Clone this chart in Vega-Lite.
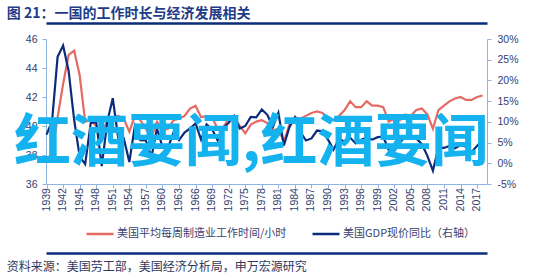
{
  "$schema": "https://vega.github.io/schema/vega-lite/v6.json",
  "width": 441,
  "height": 145,
  "autosize": "none",
  "padding": {"left": 46, "top": 39, "right": 52, "bottom": 93},
  "background": "white",
  "config": {
    "view": {"stroke": null},
    "axis": {
      "labelFont": "Liberation Sans",
      "labelFontSize": 10.5,
      "labelColor": "#34406E",
      "domainColor": "#8EB4E3",
      "tickColor": "#8EB4E3",
      "tickSize": 4,
      "grid": false,
      "title": null
    },
    "legend": {
      "labelFont": "Noto Sans CJK SC",
      "labelFontSize": 11,
      "labelColor": "#3A4270",
      "labelLimit": 400
    }
  },
  "datasets": {
    "hours": [
      {"year": 1939, "hours": 37.7}, {"year": 1940, "hours": 38.1}, {"year": 1941, "hours": 40.6},
      {"year": 1942, "hours": 42.9}, {"year": 1943, "hours": 44.9}, {"year": 1944, "hours": 45.2},
      {"year": 1945, "hours": 43.5}, {"year": 1946, "hours": 40.3}, {"year": 1947, "hours": 40.4},
      {"year": 1948, "hours": 40.0}, {"year": 1949, "hours": 39.1}, {"year": 1950, "hours": 40.5},
      {"year": 1951, "hours": 40.6}, {"year": 1952, "hours": 40.7}, {"year": 1953, "hours": 40.5},
      {"year": 1954, "hours": 39.6}, {"year": 1955, "hours": 40.7}, {"year": 1956, "hours": 40.4},
      {"year": 1957, "hours": 39.8}, {"year": 1958, "hours": 39.2}, {"year": 1959, "hours": 40.3},
      {"year": 1960, "hours": 39.7}, {"year": 1961, "hours": 39.8}, {"year": 1962, "hours": 40.4},
      {"year": 1963, "hours": 40.5}, {"year": 1964, "hours": 40.7}, {"year": 1965, "hours": 41.2},
      {"year": 1966, "hours": 41.4}, {"year": 1967, "hours": 40.6}, {"year": 1968, "hours": 40.7},
      {"year": 1969, "hours": 40.6}, {"year": 1970, "hours": 39.8}, {"year": 1971, "hours": 39.9},
      {"year": 1972, "hours": 40.5}, {"year": 1973, "hours": 40.7}, {"year": 1974, "hours": 40.0},
      {"year": 1975, "hours": 39.5}, {"year": 1976, "hours": 40.1}, {"year": 1977, "hours": 40.3},
      {"year": 1978, "hours": 40.4}, {"year": 1979, "hours": 40.2}, {"year": 1980, "hours": 39.7},
      {"year": 1981, "hours": 39.8}, {"year": 1982, "hours": 38.9}, {"year": 1983, "hours": 40.1},
      {"year": 1984, "hours": 40.6}, {"year": 1985, "hours": 40.5}, {"year": 1986, "hours": 40.7},
      {"year": 1987, "hours": 40.9}, {"year": 1988, "hours": 41.0}, {"year": 1989, "hours": 40.9},
      {"year": 1990, "hours": 40.5}, {"year": 1991, "hours": 40.4}, {"year": 1992, "hours": 40.7},
      {"year": 1993, "hours": 41.1}, {"year": 1994, "hours": 41.7}, {"year": 1995, "hours": 41.3},
      {"year": 1996, "hours": 41.3}, {"year": 1997, "hours": 41.7}, {"year": 1998, "hours": 41.4},
      {"year": 1999, "hours": 41.4}, {"year": 2000, "hours": 41.3}, {"year": 2001, "hours": 40.3},
      {"year": 2002, "hours": 40.5}, {"year": 2003, "hours": 40.4}, {"year": 2004, "hours": 40.8},
      {"year": 2005, "hours": 40.7}, {"year": 2006, "hours": 41.1}, {"year": 2007, "hours": 41.2},
      {"year": 2008, "hours": 40.8}, {"year": 2009, "hours": 39.8}, {"year": 2010, "hours": 41.1},
      {"year": 2011, "hours": 41.4}, {"year": 2012, "hours": 41.7}, {"year": 2013, "hours": 41.9},
      {"year": 2014, "hours": 42.0}, {"year": 2015, "hours": 41.8}, {"year": 2016, "hours": 41.8},
      {"year": 2017, "hours": 42.0}, {"year": 2018, "hours": 42.1}
    ],
    "gdp": [
      {"year": 1939, "gdp": 6.9}, {"year": 1940, "gdp": 10.2}, {"year": 1941, "gdp": 25.7},
      {"year": 1942, "gdp": 28.4}, {"year": 1943, "gdp": 22.3}, {"year": 1944, "gdp": 10.5},
      {"year": 1945, "gdp": 1.6}, {"year": 1946, "gdp": -0.2}, {"year": 1947, "gdp": 9.7},
      {"year": 1948, "gdp": 10.0}, {"year": 1949, "gdp": -0.7}, {"year": 1950, "gdp": 10.0},
      {"year": 1951, "gdp": 15.7}, {"year": 1952, "gdp": 5.9}, {"year": 1953, "gdp": 6.0},
      {"year": 1954, "gdp": 0.3}, {"year": 1955, "gdp": 9.0}, {"year": 1956, "gdp": 5.6},
      {"year": 1957, "gdp": 5.5}, {"year": 1958, "gdp": 1.5}, {"year": 1959, "gdp": 8.4},
      {"year": 1960, "gdp": 4.0}, {"year": 1961, "gdp": 3.7}, {"year": 1962, "gdp": 7.4},
      {"year": 1963, "gdp": 5.6}, {"year": 1964, "gdp": 7.4}, {"year": 1965, "gdp": 8.4},
      {"year": 1966, "gdp": 9.6}, {"year": 1967, "gdp": 5.7}, {"year": 1968, "gdp": 9.4},
      {"year": 1969, "gdp": 8.2}, {"year": 1970, "gdp": 5.5}, {"year": 1971, "gdp": 8.5},
      {"year": 1972, "gdp": 9.8}, {"year": 1973, "gdp": 11.4}, {"year": 1974, "gdp": 8.4},
      {"year": 1975, "gdp": 9.0}, {"year": 1976, "gdp": 11.2}, {"year": 1977, "gdp": 11.1},
      {"year": 1978, "gdp": 13.0}, {"year": 1979, "gdp": 11.7}, {"year": 1980, "gdp": 8.8},
      {"year": 1981, "gdp": 12.2}, {"year": 1982, "gdp": 4.3}, {"year": 1983, "gdp": 8.7},
      {"year": 1984, "gdp": 11.1}, {"year": 1985, "gdp": 7.5}, {"year": 1986, "gdp": 5.5},
      {"year": 1987, "gdp": 6.0}, {"year": 1988, "gdp": 7.9}, {"year": 1989, "gdp": 7.7},
      {"year": 1990, "gdp": 5.7}, {"year": 1991, "gdp": 3.3}, {"year": 1992, "gdp": 5.9},
      {"year": 1993, "gdp": 5.2}, {"year": 1994, "gdp": 6.2}, {"year": 1995, "gdp": 4.8},
      {"year": 1996, "gdp": 5.7}, {"year": 1997, "gdp": 6.2}, {"year": 1998, "gdp": 5.7},
      {"year": 1999, "gdp": 6.3}, {"year": 2000, "gdp": 6.4}, {"year": 2001, "gdp": 3.2},
      {"year": 2002, "gdp": 3.4}, {"year": 2003, "gdp": 4.8}, {"year": 2004, "gdp": 6.6},
      {"year": 2005, "gdp": 6.7}, {"year": 2006, "gdp": 6.0}, {"year": 2007, "gdp": 4.6},
      {"year": 2008, "gdp": 1.8}, {"year": 2009, "gdp": -1.8}, {"year": 2010, "gdp": 3.8},
      {"year": 2011, "gdp": 3.7}, {"year": 2012, "gdp": 4.2}, {"year": 2013, "gdp": 3.6},
      {"year": 2014, "gdp": 4.4}, {"year": 2015, "gdp": 4.0}, {"year": 2016, "gdp": 2.7},
      {"year": 2017, "gdp": 4.2}, {"year": 2018, "gdp": 5.6}
    ],
    "years": [
      {"year": 1939}, {"year": 1942}, {"year": 1945}, {"year": 1948}, {"year": 1951},
      {"year": 1954}, {"year": 1957}, {"year": 1960}, {"year": 1963}, {"year": 1966},
      {"year": 1969}, {"year": 1972}, {"year": 1975}, {"year": 1978}, {"year": 1981},
      {"year": 1984}, {"year": 1987}, {"year": 1990}, {"year": 1993}, {"year": 1996},
      {"year": 1999}, {"year": 2002}, {"year": 2005}, {"year": 2008}, {"year": 2011},
      {"year": 2014}, {"year": 2017}
    ],
    "titles": [
      {"x": 1931.8, "y": 47.72, "label": "图 21：一国的工作时长与经济发展相关"}
    ],
    "notes": [
      {"x": 1931.8, "y": 30.28, "label": "资料来源：美国劳工部，美国经济分析局，申万宏源研究"}
    ],
    "mark": [
      {"x": 1976.1, "y": 38.76, "label": "红酒要闻,红酒要闻"}
    ]
  },
  "layer": [
    {
      "data": {"name": "hours"},
      "mark": {"type": "line", "strokeWidth": 2.2},
      "encoding": {
        "x": {
          "field": "year", "type": "quantitative",
          "scale": {"domain": [1938.9, 2018.8], "nice": false, "zero": false},
          "axis": {
            "values": [1939,1942,1945,1948,1951,1954,1957,1960,1963,1966,1969,1972,1975,1978,1981,1984,1987,1990,1993,1996,1999,2002,2005,2008,2011,2014,2017],
            "labels": false
          }
        },
        "y": {
          "field": "hours", "type": "quantitative",
          "scale": {"domain": [36, 46], "nice": false, "zero": false},
          "axis": {"orient": "left", "values": [36,38,40,42,44,46], "labelPadding": 5}
        },
        "color": {
          "datum": "美国平均每周制造业工作时间/小时",
          "type": "nominal",
          "scale": {
            "domain": ["美国平均每周制造业工作时间/小时", "美国GDP现价同比（右轴）"],
            "range": ["#E46A64", "#0A2C7A"]
          },
          "legend": {
            "orient": "none", "direction": "horizontal",
            "legendX": 39, "legendY": 180,
            "title": null,
            "symbolType": "stroke", "symbolSize": 729, "symbolStrokeWidth": 2.5,
            "labelOffset": 2, "columnPadding": 20, "labelLimit": 400
          }
        }
      }
    },
    {
      "data": {"name": "gdp"},
      "mark": {"type": "line", "strokeWidth": 2.2},
      "encoding": {
        "x": {"field": "year", "type": "quantitative", "axis": null},
        "y": {
          "field": "gdp", "type": "quantitative",
          "scale": {"domain": [-5, 30], "nice": false, "zero": false},
          "axis": {"orient": "right", "values": [-5,0,5,10,15,20,25,30], "labelExpr": "datum.value + '%'", "labelPadding": 6}
        },
        "color": {"datum": "美国GDP现价同比（右轴）", "type": "nominal"}
      }
    },
    {
      "data": {"name": "years"},
      "mark": {"type": "text", "angle": 270, "align": "right", "baseline": "middle", "font": "Liberation Sans", "fontSize": 10.5, "color": "#34406E"},
      "encoding": {
        "x": {"field": "year", "type": "quantitative", "axis": null},
        "y": {"datum": 35.72, "type": "quantitative", "scale": {"domain": [36, 46], "nice": false, "zero": false}, "axis": null},
        "text": {"field": "year", "type": "quantitative", "format": "d"}
      }
    },
    {
      "data": {"name": "titles"},
      "mark": {"type": "text", "align": "left", "baseline": "middle", "font": "Noto Sans CJK SC", "fontSize": 14, "fontWeight": "bold", "color": "#1F3C88"},
      "encoding": {
        "x": {
          "field": "x", "type": "quantitative",
          "axis": {"orient": "top", "offset": 16, "domainColor": "#0A2C7A", "domainWidth": 2.5, "ticks": false, "labels": false, "title": null, "grid": false}
        },
        "y": {"field": "y", "type": "quantitative", "scale": {"domain": [36, 46], "nice": false, "zero": false}, "axis": null},
        "text": {"field": "label"}
      }
    },
    {
      "data": {"name": "notes"},
      "mark": {"type": "text", "align": "left", "baseline": "middle", "font": "Noto Sans CJK SC", "fontSize": 12, "color": "#30395E"},
      "encoding": {
        "x": {
          "field": "x", "type": "quantitative",
          "axis": {"orient": "bottom", "offset": 69, "domainColor": "#0A2C7A", "domainWidth": 2.5, "ticks": false, "labels": false, "title": null, "grid": false}
        },
        "y": {"field": "y", "type": "quantitative", "scale": {"domain": [36, 46], "nice": false, "zero": false}, "axis": null},
        "text": {"field": "label"}
      }
    },
    {
      "data": {"name": "mark"},
      "mark": {"type": "text", "align": "center", "baseline": "middle", "font": "Noto Sans CJK SC", "fontSize": 57, "fontWeight": "bold", "color": "#14B2EE"},
      "encoding": {
        "x": {"field": "x", "type": "quantitative", "axis": null},
        "y": {"field": "y", "type": "quantitative", "scale": {"domain": [36, 46], "nice": false, "zero": false}, "axis": null},
        "text": {"field": "label"}
      }
    }
  ],
  "resolve": {"scale": {"y": "independent"}, "axis": {"x": "independent"}}
}
